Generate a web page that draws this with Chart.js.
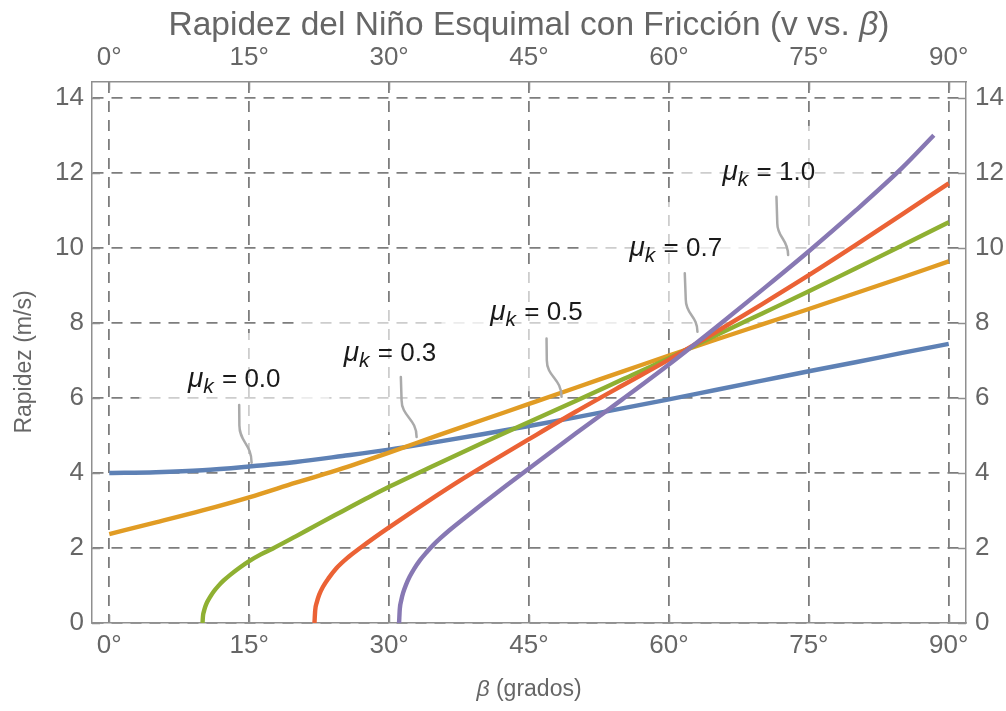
<!DOCTYPE html>
<html>
<head>
<meta charset="utf-8">
<title>Rapidez del Niño Esquimal con Fricción</title>
<script src="https://cdn.jsdelivr.net/npm/chart.js@4.4.1/dist/chart.umd.min.js"></script>
<style>
  html, body { margin: 0; padding: 0; background: #ffffff; }
  #wrap { width: 1006px; height: 711px; }
</style>
</head>
<body>
<div id="wrap"><canvas id="chart" width="1006" height="711"></canvas></div>
<script>
// Angle ticks (degrees) and speed ticks (m/s)
const angleTicks = [0, 15, 30, 45, 60, 75, 90];
const speedTicks = [0, 2, 4, 6, 8, 10, 12, 14];

// Speed v (m/s) versus slope angle beta (degrees) for each friction coefficient
const betaMu00 = [0, 5, 10, 15, 20, 25, 30, 35, 40, 45, 50, 55, 60, 65, 70, 75, 80, 85, 90];
const speedMu00 = [4.00, 4.02, 4.07, 4.17, 4.29, 4.45, 4.62, 4.82, 5.03, 5.25, 5.48, 5.72, 5.96, 6.21, 6.46, 6.71, 6.95, 7.20, 7.44];

const betaMu03 = [0, 5, 10, 15, 20, 25, 30, 35, 40, 45, 50, 55, 60, 65, 70, 75, 80, 85, 90];
const speedMu03 = [2.37, 2.68, 3.00, 3.35, 3.74, 4.12, 4.54, 4.98, 5.41, 5.84, 6.27, 6.70, 7.13, 7.55, 7.96, 8.37, 8.79, 9.21, 9.64];

const betaMu05 = [10.0, 10.05, 10.15, 10.3, 10.5, 10.8, 11.2, 11.7, 12.3, 13, 14, 15, 16.25, 17.5, 20, 22.5, 25, 27.5, 30, 35, 40, 45, 50, 55, 60, 65, 70, 75, 80, 85, 90];
const speedMu05 = [0, 0.19, 0.31, 0.44, 0.56, 0.69, 0.84, 0.99, 1.14, 1.29, 1.48, 1.65, 1.83, 1.98, 2.31, 2.65, 2.98, 3.31, 3.63, 4.22, 4.80, 5.36, 5.92, 6.49, 7.06, 7.66, 8.25, 8.84, 9.45, 10.06, 10.68];

const betaMu07 = [22.0, 22.08, 22.25, 22.5, 22.9, 23.5, 24.35, 25.5, 26.9, 28.5, 30, 32.5, 35, 37.5, 40, 45, 50, 55, 60, 65, 70, 75, 80, 85, 90];
const speedMu07 = [0, 0.34, 0.55, 0.75, 0.96, 1.19, 1.46, 1.73, 2.00, 2.29, 2.55, 2.97, 3.38, 3.78, 4.16, 4.90, 5.63, 6.33, 7.02, 7.75, 8.50, 9.27, 10.07, 10.89, 11.72];

const betaMu10 = [31.07, 31.15, 31.3, 31.5, 31.8, 32.2, 32.7, 33.3, 34, 34.7, 35.5, 36.5, 38, 40, 42.5, 45, 50, 55, 60, 65, 70, 75, 80, 85, 88.4];
const speedMu10 = [0, 0.38, 0.60, 0.80, 1.01, 1.23, 1.45, 1.67, 1.88, 2.07, 2.26, 2.48, 2.78, 3.17, 3.65, 4.12, 5.05, 5.96, 6.89, 7.87, 8.88, 9.91, 10.99, 12.13, 13.00];

const frictionValues = ['0.0', '0.3', '0.5', '0.7', '1.0'];
const seriesColors = ['#5E81B5', '#E19C24', '#8FB032', '#EB6235', '#8778B3'];

// Callout placement in data units (degrees, m/s): label centre and leader path
const calloutLabelAt = [[13.4, 6.53], [30.1, 7.22], [45.8, 8.31], [60.74, 10.02], [70.71, 12.05]];
const calloutLeaders = [
  [[13.93, 5.81], [13.95, 5.27], [15.26, 4.27]],
  [[31.26, 6.56], [31.34, 5.94], [32.95, 4.96]],
  [[46.88, 7.58], [46.91, 7.00], [48.49, 6.03]],
  [[61.70, 9.32], [61.81, 8.61], [63.06, 7.76]],
  [[71.53, 11.36], [71.62, 10.65], [72.78, 9.81]]
];

const FONT = '"Liberation Sans", Arial, "Helvetica", sans-serif';
const AXIS_GREY = '#8f8f8f';
const TEXT_GREY = '#666666';

function toPoints(xs, ys) {
  return xs.map((x, i) => ({ x: x, y: ys[i] }));
}

const seriesX = [betaMu00, betaMu03, betaMu05, betaMu07, betaMu10];
const seriesY = [speedMu00, speedMu03, speedMu05, speedMu07, speedMu10];

const datasets = seriesX.map((xs, i) => ({
  label: '\u03bck = ' + frictionValues[i],
  data: toPoints(xs, seriesY[i]),
  borderColor: seriesColors[i],
  backgroundColor: seriesColors[i],
  borderWidth: 4.4,
  pointRadius: 0,
  fill: false,
  cubicInterpolationMode: 'monotone',
  order: seriesX.length - i
}));

function setTicks(values) {
  return (scale) => { scale.ticks = values.map(v => ({ value: v })); };
}

// Light veil behind each callout so gridlines fade under the labels
const calloutVeil = {
  id: 'calloutVeil',
  beforeDatasetsDraw(chart) {
    const { ctx, scales: { x, y } } = chart;
    ctx.save();
    ctx.fillStyle = 'rgba(255,255,255,0.62)';
    calloutLabelAt.forEach(([bx, by]) => {
      const cx = x.getPixelForValue(bx);
      const cy = y.getPixelForValue(by);
      ctx.fillRect(cx - 95, cy - 45, 190, 125);
    });
    ctx.restore();
  }
};

// Inward frame ticks, callouts and titles
const decorations = {
  id: 'decorations',
  afterDraw(chart) {
    const { ctx, chartArea: a, scales: { x, y } } = chart;
    ctx.save();

    // frame ticks pointing into the plot
    ctx.strokeStyle = AXIS_GREY;
    ctx.lineWidth = 1.5;
    const tl = 8;
    ctx.beginPath();
    angleTicks.forEach(v => {
      const px = Math.round(x.getPixelForValue(v)) + 0.5;
      ctx.moveTo(px, a.bottom); ctx.lineTo(px, a.bottom - tl);
      ctx.moveTo(px, a.top); ctx.lineTo(px, a.top + tl);
    });
    speedTicks.forEach(v => {
      const py = Math.round(y.getPixelForValue(v)) + 0.5;
      ctx.moveTo(a.left, py); ctx.lineTo(a.left + tl, py);
      ctx.moveTo(a.right, py); ctx.lineTo(a.right - tl, py);
    });
    ctx.stroke();

    // callout leaders
    ctx.strokeStyle = '#aaaaaa';
    ctx.lineWidth = 2.5;
    ctx.lineCap = 'round';
    calloutLeaders.forEach(path => {
      const p = path.map(([bx, by]) => [x.getPixelForValue(bx), y.getPixelForValue(by)]);
      ctx.beginPath();
      ctx.moveTo(p[0][0], p[0][1]);
      ctx.lineTo(p[1][0], p[1][1]);
      const dy = p[2][1] - p[1][1];
      ctx.bezierCurveTo(p[1][0], p[1][1] + dy * 0.45, p[2][0], p[2][1] - dy * 0.5, p[2][0], p[2][1]);
      ctx.stroke();
    });

    // callout labels: italic mu with italic subscript k
    ctx.fillStyle = '#1a1a1a';
    ctx.textBaseline = 'alphabetic';
    ctx.textAlign = 'left';
    const muFont = 'italic 28px ' + FONT;
    const subFont = 'italic 21px ' + FONT;
    const mainFont = '26px ' + FONT;
    calloutLabelAt.forEach(([bx, by], i) => {
      const cx = x.getPixelForValue(bx);
      const cy = y.getPixelForValue(by);
      const rest = ' = ' + frictionValues[i];
      ctx.font = muFont; const wMu = ctx.measureText('\u03bc').width;
      ctx.font = subFont; const wK = ctx.measureText('k').width + 1;
      ctx.font = mainFont; const wRest = ctx.measureText(rest).width;
      let left = cx - (wMu + wK + wRest) / 2;
      const base = cy + 9;
      ctx.font = muFont; ctx.fillText('\u03bc', left, base); left += wMu;
      ctx.font = subFont; ctx.fillText('k', left, base + 6); left += wK;
      ctx.font = mainFont; ctx.fillText(rest, left, base);
    });

    // titles
    ctx.fillStyle = TEXT_GREY;
    ctx.textBaseline = 'middle';
    const midX = (a.left + a.right) / 2;
    const drawRuns = (runs, cx, cy) => {
      let total = 0;
      runs.forEach(r => { ctx.font = r.font; r.w = ctx.measureText(r.text).width; total += r.w; });
      let left = cx - total / 2;
      runs.forEach(r => { ctx.font = r.font; ctx.fillText(r.text, left, cy); left += r.w; });
    };
    drawRuns([
      { text: 'Rapidez del Niño Esquimal con Fricción (v vs. ', font: '33.5px ' + FONT },
      { text: '\u03b2', font: 'italic 33.5px ' + FONT },
      { text: ')', font: '33.5px ' + FONT }
    ], midX, 26);
    drawRuns([
      { text: '\u03b2', font: 'italic 23px ' + FONT },
      { text: ' (grados)', font: '23px ' + FONT }
    ], midX, 690);

    ctx.save();
    ctx.translate(25, 362);
    ctx.rotate(-Math.PI / 2);
    ctx.textAlign = 'center';
    ctx.font = '23px ' + FONT;
    ctx.fillText('Rapidez (m/s)', 0, 0);
    ctx.restore();

    ctx.restore();
  }
};

const tickFont = { family: FONT, size: 26 };

new Chart(document.getElementById('chart'), {
  type: 'line',
  data: { datasets: datasets },
  plugins: [calloutVeil, decorations],
  options: {
    responsive: false,
    animation: false,
    devicePixelRatio: 1,
    layout: { padding: 0 },
    plugins: { legend: { display: false }, tooltip: { enabled: false }, title: { display: false } },
    elements: { point: { radius: 0 } },
    scales: {
      x: {
        type: 'linear', position: 'bottom', min: -1.85, max: 91.85,
        afterBuildTicks: setTicks(angleTicks),
        afterFit: (s) => { s.height = 88; },
        grid: { color: '#7d7d7d', lineWidth: 1.8, drawTicks: false },
        border: { display: true, color: AXIS_GREY, width: 1.5, dash: [11, 8] },
        ticks: { color: TEXT_GREY, font: tickFont, padding: 7, maxRotation: 0, autoSkip: false, callback: (v) => v + '\u00b0' }
      },
      xTop: {
        type: 'linear', position: 'top', min: -1.85, max: 91.85,
        afterBuildTicks: setTicks(angleTicks),
        afterFit: (s) => { s.height = 82; },
        grid: { display: false, drawTicks: false },
        border: { display: true, color: AXIS_GREY, width: 1.5 },
        ticks: { color: TEXT_GREY, font: tickFont, padding: 9, maxRotation: 0, autoSkip: false, callback: (v) => v + '\u00b0' }
      },
      y: {
        type: 'linear', position: 'left', min: 0, max: 14.42,
        afterBuildTicks: setTicks(speedTicks),
        afterFit: (s) => { s.width = 92; },
        grid: { color: '#7d7d7d', lineWidth: 1.8, drawTicks: false },
        border: { display: true, color: AXIS_GREY, width: 1.5, dash: [11, 8] },
        ticks: { color: TEXT_GREY, font: tickFont, padding: 8, autoSkip: false }
      },
      yRight: {
        type: 'linear', position: 'right', min: 0, max: 14.42,
        afterBuildTicks: setTicks(speedTicks),
        afterFit: (s) => { s.width = 40; },
        grid: { display: false, drawTicks: false },
        border: { display: true, color: AXIS_GREY, width: 1.5 },
        ticks: { color: TEXT_GREY, font: tickFont, padding: 9, autoSkip: false }
      }
    }
  }
});
</script>
</body>
</html>
